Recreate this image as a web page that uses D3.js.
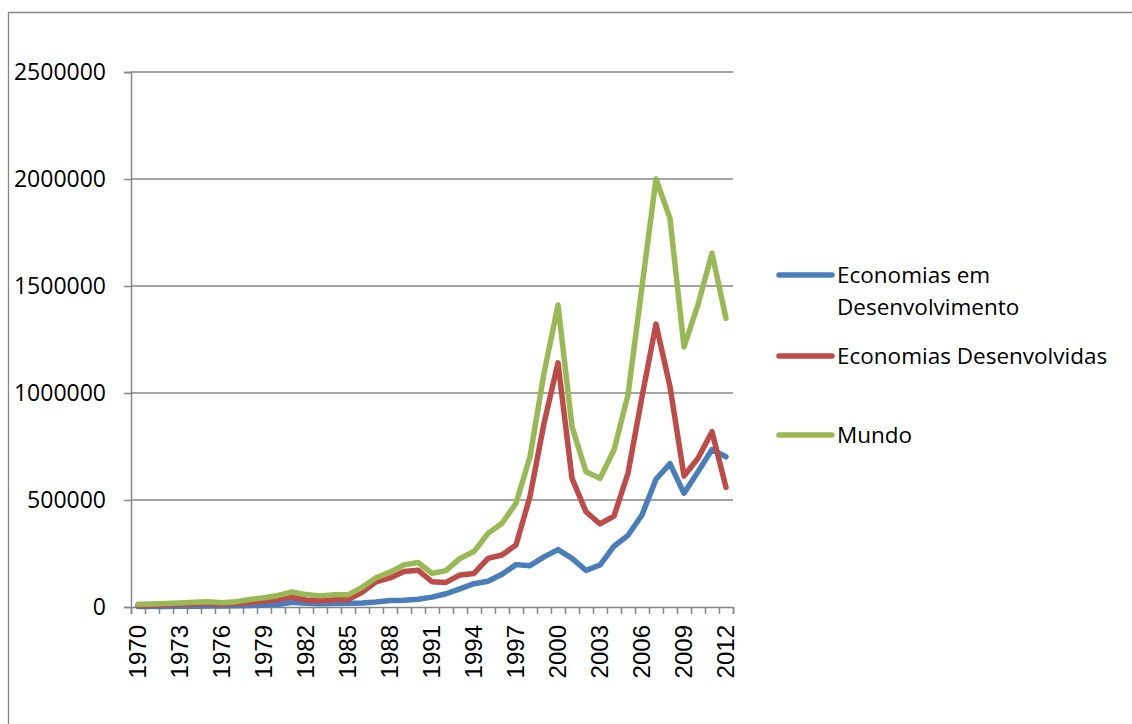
<!DOCTYPE html>
<html>
<head>
<meta charset="utf-8">
<script src="https://cdn.jsdelivr.net/npm/d3@7"></script>
<style>
  body { margin: 0; background: #fff; }
  svg { display: block; }
</style>
</head>
<body>
<svg id="chart" width="1132" height="724"></svg>
<script>
var years = [1970, 1971, 1972, 1973, 1974, 1975, 1976, 1977, 1978, 1979,
  1980, 1981, 1982, 1983, 1984, 1985, 1986, 1987, 1988, 1989,
  1990, 1991, 1992, 1993, 1994, 1995, 1996, 1997, 1998, 1999,
  2000, 2001, 2002, 2003, 2004, 2005, 2006, 2007, 2008, 2009,
  2010, 2011, 2012];

var emDesenvolvimento = [2000, 2000, 2500, 3000, 3500, 5000, 5000, 6000, 7000, 10000,
  11000, 22000, 18000, 15000, 16000, 17000, 19000, 23000, 30000, 32000,
  36000, 46000, 62000, 85000, 109000, 120000, 153000, 198000, 193000, 234000,
  268000, 227000, 171000, 196000, 284000, 335000, 430000, 597000, 670000, 531000,
  632000, 736000, 702000];

var desenvolvidas = [6000, 8000, 10000, 13000, 14000, 16000, 13000, 16000, 21000, 28000,
  35000, 46000, 33000, 29000, 34000, 35000, 69000, 118000, 136000, 166000,
  172000, 118000, 115000, 150000, 157000, 227000, 243000, 290000, 516000, 858000,
  1141000, 601000, 445000, 388000, 425000, 625000, 983000, 1322000, 1030000, 612000,
  695000, 819000, 559000];

var mundo = [12500, 14000, 16000, 19000, 22000, 25000, 20000, 25000, 35000, 43000,
  54000, 70000, 58000, 52000, 57000, 57000, 92000, 137000, 163000, 197000,
  208000, 157000, 170000, 227000, 259000, 344000, 391000, 485000, 702000, 1092000,
  1411000, 843000, 632000, 601000, 734000, 991000, 1497000, 2000000, 1816000, 1215000,
  1413000, 1653000, 1349000];

var yTicks = [0, 500000, 1000000, 1500000, 2000000, 2500000];
var xTickLabels = ["1970", "1973", "1976", "1979", "1982", "1985", "1988", "1991",
  "1994", "1997", "2000", "2003", "2006", "2009", "2012"];

var seriesNames = [["Economias em", "Desenvolvimento"], ["Economias Desenvolvidas"], ["Mundo"]];
var seriesColors = ["#4a7ebb", "#be4b48", "#98b954"];

renderChart();

function renderChart(){
  var svg = d3.select('#chart');
  var left = 131, right = 733, top = 72, bottom = 607;
  var gridColor = "#868686";

  // outer frame of the chart object
  svg.append('path')
     .attr('d', 'M8.5,730 L8.5,12.5 L1140,12.5')
     .attr('fill', 'none')
     .attr('stroke', gridColor)
     .attr('stroke-width', 1.3);

  var x = d3.scaleBand()
            .domain(years)
            .range([left, right])
            .padding(0);
  var xc = function(yr){ return x(yr) + x.bandwidth() / 2; };

  var y = d3.scaleLinear()
            .domain([0, 2500000])
            .range([bottom, top]);

  // gridlines
  svg.append('g')
     .selectAll('line')
     .data(yTicks.filter(function(d){ return d > 0; }))
     .enter()
     .append('line')
     .attr('x1', left).attr('x2', right)
     .attr('y1', function(d){ return y(d); })
     .attr('y2', function(d){ return y(d); })
     .attr('stroke', gridColor)
     .attr('stroke-width', 1.5);

  // y axis
  var yAxis = d3.axisLeft(y)
                .tickValues(yTicks)
                .tickSize(7)
                .tickPadding(18)
                .tickFormat(d3.format('d'));
  var gy = svg.append('g')
              .attr('transform', 'translate(' + left + ',0)')
              .call(yAxis);
  gy.select('.domain').attr('stroke', gridColor).attr('stroke-width', 1.5);
  gy.selectAll('.tick line').attr('stroke', gridColor).attr('stroke-width', 1.5);
  gy.selectAll('.tick text')
    .attr('font-family', '"Open Sans", sans-serif')
    .attr('font-size', '23px')
    .attr('fill', '#000');

  // x axis: tick marks at the category boundaries
  var bounds = years.map(function(yr){ return x(yr); }).concat([right]);
  var bx = d3.scaleLinear().domain([left, right]).range([left, right]);
  var xAxis = d3.axisBottom(bx)
                .tickValues(bounds)
                .tickSize(7)
                .tickFormat('');
  var gx = svg.append('g')
              .attr('transform', 'translate(0,' + bottom + ')')
              .call(xAxis);
  gx.select('.domain').attr('stroke', gridColor).attr('stroke-width', 1.5);
  gx.selectAll('.tick line').attr('stroke', gridColor).attr('stroke-width', 1.5);

  svg.append('g')
     .selectAll('text')
     .data(xTickLabels)
     .enter()
     .append('text')
     .attr('transform', function(d){
        return 'translate(' + (xc(+d) + 8) + ',' + (bottom + 18) + ') rotate(-90)';
     })
     .attr('text-anchor', 'end')
     .attr('font-family', '"Liberation Sans", Arial, sans-serif')
     .attr('font-size', '24px')
     .attr('fill', '#000')
     .text(function(d){ return d; });

  // series lines
  var line = d3.line()
               .x(function(d, i){ return xc(years[i]); })
               .y(function(d){ return y(d); });

  [emDesenvolvimento, desenvolvidas, mundo].forEach(function(s, k){
    svg.append('path')
       .datum(s)
       .attr('d', line)
       .attr('fill', 'none')
       .attr('stroke', seriesColors[k])
       .attr('stroke-width', 5.5)
       .attr('stroke-linejoin', 'round')
       .attr('stroke-linecap', 'round');
  });

  // legend
  var legendY = [275, 356, 435];
  var legend = svg.append('g');
  seriesNames.forEach(function(name, k){
    legend.append('line')
          .attr('x1', 779).attr('x2', 832)
          .attr('y1', legendY[k]).attr('y2', legendY[k])
          .attr('stroke', seriesColors[k])
          .attr('stroke-width', 5.5)
          .attr('stroke-linecap', 'round');
    var t = legend.append('text')
                  .attr('x', 837)
                  .attr('y', legendY[k] + 8)
                  .attr('font-family', '"Open Sans", sans-serif')
                  .attr('font-size', '22.5px')
                  .attr('fill', '#000');
    name.forEach(function(part, j){
      t.append('tspan')
       .attr('x', 837)
       .attr('dy', j === 0 ? 0 : 32)
       .text(part);
    });
  });
}
</script>
</body>
</html>
